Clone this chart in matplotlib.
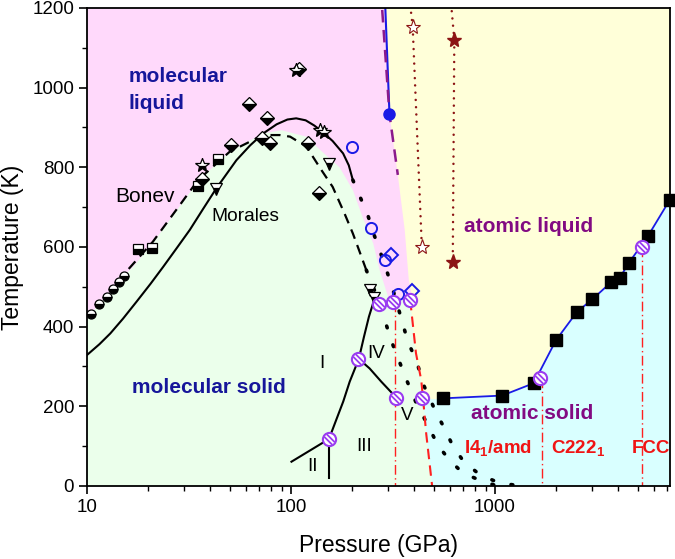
import matplotlib
matplotlib.use("Agg")
import matplotlib.pyplot as plt
from matplotlib.path import Path

plt.rcParams['font.family'] = ['Liberation Sans', 'DejaVu Sans']
plt.rcParams['mathtext.fontset'] = 'custom'
plt.rcParams['mathtext.rm'] = 'Liberation Sans'
plt.rcParams['mathtext.bf'] = 'Liberation Sans:bold'

# ---- region outlines (P in GPa, T in K)
pink_P = [10, 290, 304, 334, 361, 378, 394, 384, 384, 10]
pink_T = [1200, 1200, 933, 781, 643, 517, 470, 467, 0, 0]

green_P = [10, 10, 10.46, 11.5, 12.5, 13.45, 14.3, 15.2, 16.8, 21, 35, 50, 73, 90, 119, 138,
           173, 201, 224, 253, 272, 292, 303, 384, 410, 435, 444, 460, 492]
green_T = [0, 425, 433, 457, 475, 494, 511, 528, 550, 610, 765, 840, 885, 893, 877, 845,
           800, 743, 676, 609, 542, 492, 467, 467, 333, 266, 220, 132, 0]

cyan_P = [444, 555, 1084, 1548, 1992, 2523, 3008, 3700, 4094, 4548, 5634, 7194, 9000, 9000, 492, 460]
cyan_T = [218, 218, 227, 258, 366, 437, 469, 511, 523, 561, 628, 718, 800, 0, 0, 132]

# ---- curves
morales_P = [10, 11.5, 13, 15, 17.5, 20.5, 23.6, 27.5, 31.9, 37, 43, 54, 63, 73, 85, 96, 106,
             118, 130, 142, 160, 180, 192, 201]
morales_T = [329, 356, 383, 420, 463, 508, 550, 597, 643, 695, 747, 818, 855, 885, 908, 920, 923,
             918, 905, 890, 866, 835, 805, 768]

bonev_P = [16, 21, 28, 35, 50, 73, 88, 99, 119, 141, 160, 183, 201, 217, 234]
bonev_T = [545, 613, 700, 768, 839, 881, 881, 877, 852, 793, 751, 684, 634, 588, 542]

dotA_P = [201, 218, 238, 254, 272, 292, 313, 332, 353, 374, 411, 450, 514, 565, 621, 703, 845, 1047, 1300]
dotA_T = [768, 726, 680, 634, 592, 546, 500, 455, 408, 362, 316, 250, 185, 145, 101, 61, 28, 8, 1]

dotB_P = [234, 255, 275, 291, 310, 336, 364, 410, 477, 524, 598, 695, 855, 1000]
dotB_T = [542, 495, 450, 410, 365, 319, 273, 210, 145, 103, 65, 33, 13, 2]

red_dash_P = [384, 410, 435, 444, 460, 492]
red_dash_T = [467, 333, 266, 220, 132, 0]

blue_top_P = [290, 304]
blue_top_T = [1200, 933]
purple_dash_P = [280, 304, 334]
purple_dash_T = [1195, 933, 781]

# phase lines of the molecular solid
l_II_III_P = [100.5, 153.5]
l_II_III_T = [61, 118]
l_vert_P = [153.5, 153.5]
l_vert_T = [118, 19]
l_I_III_P = [153.5, 166.6, 180.3, 194, 215]
l_I_III_T = [118, 166, 212, 262, 319]
l_I_IV_P = [215, 228, 241, 257]
l_I_IV_T = [319, 375, 425, 471]
l_IV_V_P = [215, 243, 277, 328]
l_IV_V_T = [319, 295, 262, 222]

# atomic solid melting line
sq_P = [555, 1084, 1548, 1992, 2523, 3008, 3700, 4094, 4548, 5634, 7194]
sq_T = [220, 227, 258, 366, 437, 469, 511, 523, 561, 628, 718]

# dash-dot structural boundaries
dd_P = [325, 1698, 5258]
dd_T = [463, 270, 600]

# ---- data points
circ_P = [10.46, 11.5, 12.5, 13.45, 14.3, 15.2]
circ_T = [433, 457, 475, 494, 511, 528]
sqh_P = [17.7, 20.9, 35, 44]
sqh_T = [594, 597, 752, 822]
dia_P = [36.5, 50.7, 62.2, 71.9, 75.9, 79.3, 110, 121, 136.8]
dia_T = [770, 855, 958, 874, 925, 860, 1048, 860, 735]
tri_P = [43, 153.5, 243, 254]
tri_T = [745, 808, 492, 471]
star_P = [36.4, 106, 139, 145]
star_T = [806, 1045, 893, 888]

bcirc_P = [199, 247, 288, 334]
bcirc_T = [850, 648, 567, 481]
bdia_P = [307.6, 391]
bdia_T = [580, 489]
bfill_P = [304]
bfill_T = [933]

open_star_P = [395, 438]
open_star_T = [1153, 599]
fill_star_P = [632, 621]
fill_star_T = [1120, 563]
vline1_P = [388, 395, 438]
vline1_T = [1188, 1153, 599]
vline2_P = [614, 632, 621]
vline2_T = [1192, 1120, 563]

hatch_P = [153.5, 214, 270, 318, 384, 328, 440, 1668, 5237]
hatch_T = [118, 319, 457, 463, 467, 222, 220, 270, 601]

fig = plt.figure(figsize=(6.75, 5.59), dpi=100)
ax = fig.add_axes([0.129, 0.1306, 0.8633, 0.8551])
ax.set_xscale('log')
ax.set_xlim(10, 7200)
ax.set_ylim(0, 1200)
ax.set_facecolor('#ffffd9')

ax.fill(pink_P, pink_T, color='#ffd9fb', lw=0, zorder=0.5)
ax.fill(green_P, green_T, color='#ebffeb', lw=0, zorder=0.6)
ax.fill(cyan_P, cyan_T, color='#d9ffff', lw=0, zorder=0.7)

dots = dict(color='black', lw=2.6, ls=(0, (0.5, 5.0)), dash_capstyle='round', zorder=2)
ax.plot(morales_P, morales_T, color='black', lw=1.5, zorder=2)
ax.plot(bonev_P, bonev_T, color='black', lw=1.6, ls=(0, (4.5, 3.0)), zorder=2)
ax.plot(dotA_P, dotA_T, **dots)
ax.plot(dotB_P, dotB_T, **dots)
ax.plot(red_dash_P, red_dash_T, color='#ff2020', lw=1.5, ls=(0, (5, 3)), zorder=2)
ax.plot(blue_top_P, blue_top_T, color='#1a1ae6', lw=1.5, zorder=2)
ax.plot(purple_dash_P, purple_dash_T, color='#8b1a8b', lw=1.8, ls=(0, (5, 3)), zorder=2)
for px, py in [(l_II_III_P, l_II_III_T), (l_vert_P, l_vert_T), (l_I_III_P, l_I_III_T),
               (l_I_IV_P, l_I_IV_T), (l_IV_V_P, l_IV_V_T)]:
    ax.plot(px, py, color='black', lw=1.5, zorder=2)
ax.plot(sq_P, sq_T, color='#1a1ae6', lw=1.3, zorder=2)
for p, t in zip(dd_P, dd_T):
    ax.plot([p, p], [t, 0], color='#ff2020', lw=1.0, ls=(0, (7, 2.5, 1, 2.5)), zorder=2)
brown = '#8c1414'
bdots = dict(color=brown, lw=1.8, ls=(0, (0.01, 2.9)), dash_capstyle='round', zorder=2)
ax.plot(vline1_P, vline1_T, **bdots)
ax.plot(vline2_P, vline2_T, **bdots)

half = dict(ls='none', mec='black', mfc='black', mfcalt='white', fillstyle='bottom', mew=0.9,
            zorder=3)
ax.plot(circ_P, circ_T, marker='o', ms=6.5, **half)
ax.plot(sqh_P, sqh_T, marker='s', ms=6.5, **half)
ax.plot(dia_P, dia_T, marker='D', ms=7.5, **half)
ax.plot(tri_P, tri_T, marker='v', ms=8, **half)
ax.plot(star_P, star_T, marker='*', ms=10, **half)

ax.plot(bcirc_P, bcirc_T, ls='none', marker='o', ms=8, mfc='none', mec='#1a1ae6', mew=1.4, zorder=3)
ax.plot(bdia_P, bdia_T, ls='none', marker='D', ms=7.5, mfc='none', mec='#1a1ae6', mew=1.4, zorder=3)
ax.plot(bfill_P, bfill_T, ls='none', marker='o', ms=8, color='#1a1ae6', zorder=3)

ax.plot(open_star_P, open_star_T, ls='none', marker='*', ms=11, mfc='white', mec=brown, mew=0.8, zorder=3)
ax.plot(fill_star_P, fill_star_T, ls='none', marker='*', ms=11, color=brown, zorder=3)

ax.plot(sq_P, sq_T, ls='none', marker='s', ms=8, color='black', zorder=3, clip_on=False)

# open violet circles with two diagonal hatch strokes
violet = '#9a3cf0'
hatch = Path([(-0.463, 0.887), (0.887, -0.463), (-0.887, 0.463), (0.463, -0.887)],
             [Path.MOVETO, Path.LINETO, Path.MOVETO, Path.LINETO])
ax.plot(hatch_P, hatch_T, ls='none', marker='o', ms=9.5, mfc='white', mec=violet, mew=1.5, zorder=4)
ax.plot(hatch_P, hatch_T, ls='none', marker=hatch, ms=7.6, mec=violet, mew=1.3, zorder=4)

# ---- labels
dblue = '#16169a'
purple = '#820a82'
red = '#f01414'
ax.text(16, 1027, 'molecular', color=dblue, fontsize=15, fontweight='bold', va='center')
ax.text(16, 959, 'liquid', color=dblue, fontsize=15, fontweight='bold', va='center')
ax.text(16.7, 247, 'molecular solid', color=dblue, fontsize=15, fontweight='bold', va='center')
ax.text(708, 651, 'atomic liquid', color=purple, fontsize=15, fontweight='bold', va='center')
ax.text(764, 182, 'atomic solid', color=purple, fontsize=15, fontweight='bold', va='center')
ax.text(708, 82, r'I4$_\mathbf{1}$/amd', color=red, fontsize=13.5, fontweight='bold', va='baseline')
ax.text(1884, 82, r'C222$_\mathbf{1}$', color=red, fontsize=13.5, fontweight='bold', va='baseline')
ax.text(4690, 82, 'FCC', color=red, fontsize=13.5, fontweight='bold', va='baseline')
ax.text(13.7, 726, 'Bonev', fontsize=15, va='center')
ax.text(40.7, 676, 'Morales', fontsize=13.8, va='center')
for s, p, t in [('I', 141, 308), ('II', 128, 48), ('III', 229, 99), ('IV', 262, 333), ('V', 370, 176)]:
    ax.text(p, t, s, fontsize=13.5, ha='center', va='center')

ax.set_xlabel('Pressure (GPa)', fontsize=16.5, va='center')
ax.xaxis.set_label_coords(0.5, -0.1255)
ax.set_ylabel('Temperature (K)', fontsize=16.5, labelpad=6)
ax.set_xticks([10, 100, 1000])
ax.set_xticklabels(['10', '100', '1000'])
ax.set_yticks(range(0, 1201, 200))
ax.set_yticks(range(100, 1200, 200), minor=True)
ax.tick_params(which='major', direction='out', length=5.8, width=1.2, labelsize=13.5)
ax.tick_params(which='minor', direction='out', length=3.8, width=1.0)
ax.tick_params(axis='x', which='major', pad=3.8)
for sp in ax.spines.values():
    sp.set_linewidth(1.3)

fig.savefig('out.png', dpi=100)
